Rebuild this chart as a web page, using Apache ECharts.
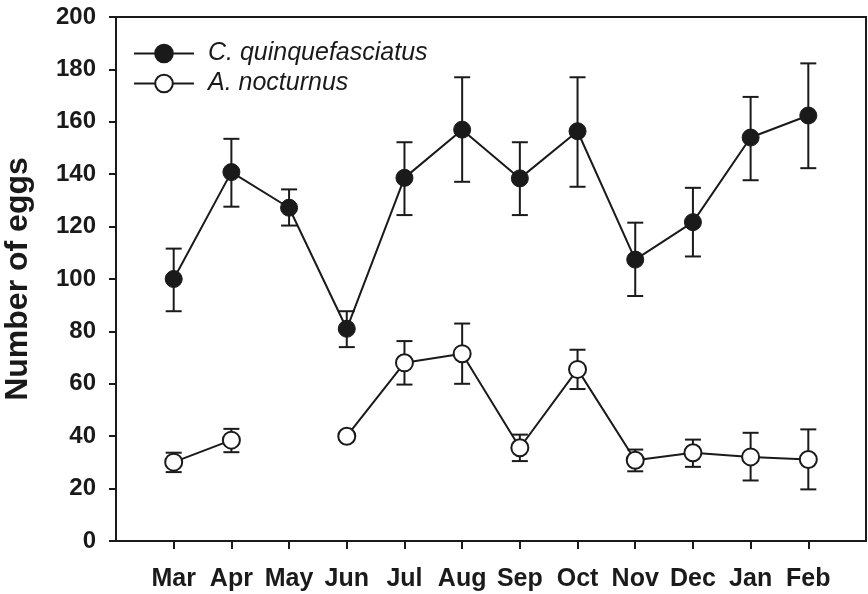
<!DOCTYPE html>
<html>
<head>
<meta charset="utf-8">
<script src="https://cdn.jsdelivr.net/npm/echarts@6/dist/echarts.min.js"></script>
<style>
  html, body { margin: 0; padding: 0; background: #fff; }
  #chart { width: 868px; height: 594px; }
</style>
</head>
<body>
<div id="chart"></div>
<script>
// 月份
const months = ['Mar', 'Apr', 'May', 'Jun', 'Jul', 'Aug', 'Sep', 'Oct', 'Nov', 'Dec', 'Jan', 'Feb']
const yTicks = [0, 20, 40, 60, 80, 100, 120, 140, 160, 180, 200]

// C. quinquefasciatus
const culexMean = [100, 140.8, 127.2, 81, 138.6, 157, 138.4, 156.4, 107.4, 121.7, 154, 162.4]
const culexUpper = [111.6, 153.5, 134.2, 87.7, 152.2, 177, 152.2, 177, 121.5, 134.8, 169.5, 182.3]
const culexLower = [87.7, 127.6, 120.4, 74, 124.4, 137.1, 124.4, 135.2, 93.5, 108.6, 137.7, 142.3]

// A. nocturnus（May 没有数据）
const anophMean = [30.1, 38.5, null, 40, 68, 71.5, 35.6, 65.5, 30.8, 33.7, 32.1, 31.1]
const anophUpper = [33.7, 42.8, null, 41.5, 76.3, 83, 40.6, 73, 34.9, 38.7, 41.3, 42.6]
const anophLower = [26.3, 33.9, null, 38.5, 59.7, 60, 30.5, 58, 26.6, 28.3, 23.1, 19.7]

const ink = '#1a1a1a'
const font = '"Liberation Sans", Arial, sans-serif'

function toPoints(values) {
  return values.map((v, i) => [i, v])
}

function toBars(lower, upper) {
  return lower.map((lo, i) => [i, lo, upper[i]]).filter(d => d[1] != null)
}

// 误差线
function renderErrorBar(params, api) {
  const lo = api.coord([api.value(0), api.value(1)])
  const hi = api.coord([api.value(0), api.value(2)])
  const half = 8
  const style = { stroke: ink, lineWidth: 2 }
  return {
    type: 'group',
    children: [
      { type: 'line', shape: { x1: lo[0], y1: lo[1], x2: hi[0], y2: hi[1] }, style },
      { type: 'line', shape: { x1: hi[0] - half, y1: hi[1], x2: hi[0] + half, y2: hi[1] }, style },
      { type: 'line', shape: { x1: lo[0] - half, y1: lo[1], x2: lo[0] + half, y2: lo[1] }, style }
    ]
  }
}

const myChart = echarts.init(document.querySelector('#chart'))

const option = {
  animation: false,
  backgroundColor: '#fff',
  grid: {
    left: 116,
    right: 2,
    top: 17,
    bottom: 53,
    outerBoundsMode: 'none',
    show: true,
    borderColor: ink,
    borderWidth: 2
  },
  legend: {
    orient: 'vertical',
    left: 128,
    top: 36,
    itemWidth: 60,
    itemHeight: 22,
    itemGap: 5,
    data: ['C. quinquefasciatus', 'A. nocturnus'],
    textStyle: {
      fontFamily: font,
      fontStyle: 'italic',
      fontSize: 25,
      color: ink,
      padding: [0, 0, 0, 9]
    }
  },
  xAxis: {
    type: 'value',
    min: -1,
    max: 12,
    interval: 1,
    splitLine: { show: false },
    axisLine: { lineStyle: { color: ink, width: 2 } },
    axisTick: {
      customValues: months.map((m, i) => i),
      length: 8,
      lineStyle: { color: ink, width: 2 }
    },
    axisLabel: {
      customValues: months.map((m, i) => i),
      formatter: v => months[v],
      margin: 26,
      fontFamily: font,
      fontWeight: 'bold',
      fontSize: 25,
      color: ink
    }
  },
  yAxis: {
    type: 'value',
    min: 0,
    max: 200,
    interval: 20,
    name: 'Number of eggs',
    nameLocation: 'middle',
    nameGap: 82,
    nameTextStyle: {
      fontFamily: font,
      fontWeight: 'bold',
      fontSize: 32,
      color: ink
    },
    splitLine: { show: false },
    axisLine: { show: true, onZero: false, lineStyle: { color: ink, width: 2 } },
    axisTick: { show: true, length: 7, lineStyle: { color: ink, width: 2 } },
    axisLabel: {
      customValues: yTicks,
      margin: 20,
      fontFamily: font,
      fontWeight: 'bold',
      fontSize: 24,
      color: ink
    }
  },
  series: [
    {
      type: 'custom',
      renderItem: renderErrorBar,
      data: toBars(culexLower, culexUpper),
      z: 1,
      silent: true
    },
    {
      type: 'custom',
      renderItem: renderErrorBar,
      data: toBars(anophLower, anophUpper),
      z: 1,
      silent: true
    },
    {
      name: 'C. quinquefasciatus',
      type: 'line',
      data: toPoints(culexMean),
      symbol: 'circle',
      symbolSize: 17,
      lineStyle: { color: ink, width: 2 },
      itemStyle: { color: ink, borderColor: ink, borderWidth: 1 },
      z: 3
    },
    {
      name: 'A. nocturnus',
      type: 'line',
      data: toPoints(anophMean),
      connectNulls: false,
      symbol: 'circle',
      symbolSize: 17,
      lineStyle: { color: ink, width: 2 },
      itemStyle: { color: '#fff', borderColor: ink, borderWidth: 2 },
      z: 3
    }
  ]
}

myChart.setOption(option)
</script>
</body>
</html>
